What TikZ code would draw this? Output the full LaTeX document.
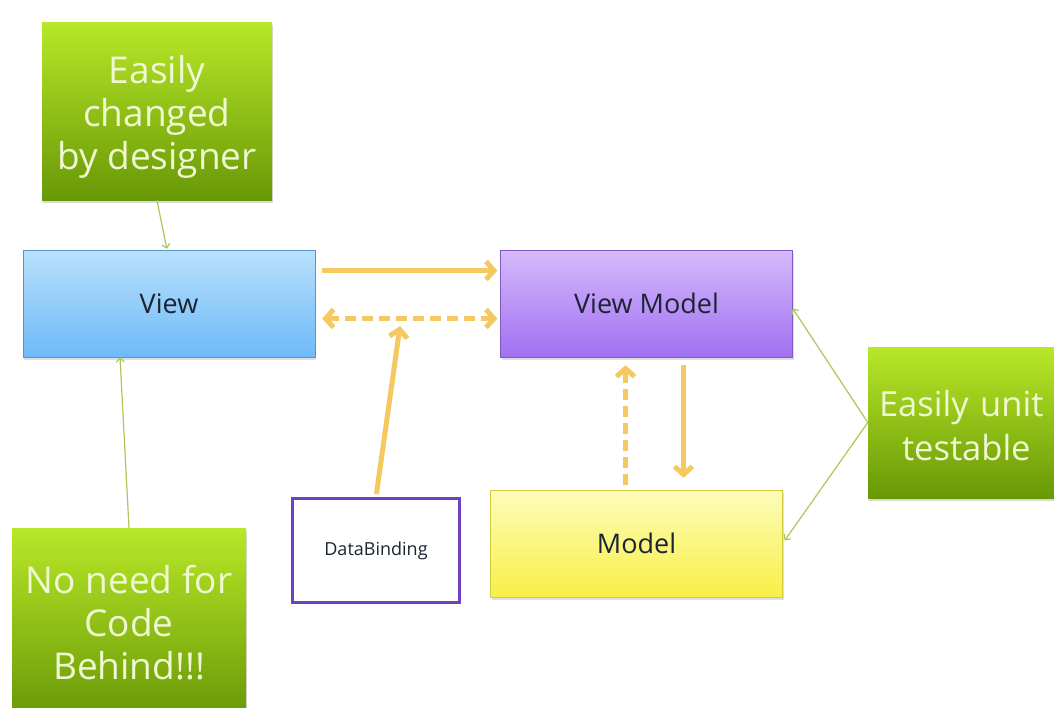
\documentclass[tikz,border=0pt]{standalone}
\usepackage{fontspec}
\setmainfont{Open Sans}
\usepackage{tikz}
\usetikzlibrary{arrows.meta, positioning, calc, shadows}
\definecolor{limetop}{RGB}{184,232,40}
\definecolor{limebot}{RGB}{104,152,6}
\definecolor{notetext}{RGB}{240,248,210}
\definecolor{skytop}{RGB}{184,224,252}
\definecolor{skybot}{RGB}{110,186,248}
\definecolor{liltop}{RGB}{214,186,252}
\definecolor{lilbot}{RGB}{160,112,242}
\definecolor{lemtop}{RGB}{252,252,186}
\definecolor{lembot}{RGB}{248,240,70}
\definecolor{flow}{RGB}{246,200,96}
\definecolor{hint}{RGB}{170,200,90}
\definecolor{bindline}{RGB}{112,64,192}
\definecolor{boxtext}{RGB}{28,36,52}

\begin{document}
\begin{tikzpicture}[x=1pt, y=-1pt,
  note/.style={top color=limetop, bottom color=limebot, text=notetext, align=center,
    font=\fontsize{37}{43}\selectfont, drop shadow={shadow xshift=1pt, shadow yshift=-3pt, opacity=0.3}},
  box/.style={minimum width=292pt, minimum height=107pt, text=boxtext, font=\fontsize{27}{31}\selectfont,
    drop shadow={shadow xshift=1pt, shadow yshift=-3pt, opacity=0.25}},
  flowarrow/.style={draw=flow, line width=5pt, -{Straight Barb[length=8pt, width=18pt]}},
  hintarrow/.style={draw=hint, line width=1.2pt, -{Straight Barb[length=4pt, width=8pt]}}]
  \clip (0,0) rectangle (1054,707);
  \fill[white] (0,0) rectangle (1054,707);

  % boxes
  \node[box, top color=skytop, bottom color=skybot, draw=skybot!80!black] (view) at (169,303.5) {View};
  \node[box, top color=liltop, bottom color=lilbot, draw=lilbot!80!black] (vm) at (646.5,303.5) {View Model};
  \node[box, top color=lemtop, bottom color=lembot, draw=lembot!85!black] (model) at (636.5,543.5) {Model};
  \node[draw=bindline, line width=3pt, fill=white, minimum width=167pt, minimum height=104pt,
    text=boxtext, font=\fontsize{18}{21}\selectfont] (bind) at (376,550.5) {DataBinding};

  % notes
  \node[note, minimum width=230pt, minimum height=178pt] (designer) at (157,111) {\rule{0pt}{40pt}Easily\\changed\\by designer};
  \node[note, minimum width=234pt, minimum height=190pt] (codebehind) at (129,623) {No need for\\Code\\Behind!!!};
  \node[note, minimum width=230pt, minimum height=151pt, text width=196pt, align=left,
    font=\fontsize{34.5}{44}\selectfont] (unit) at (983,422.5) {\hspace*{-6pt}\rule{0pt}{32pt}Easily unit\\\hspace*{17pt}testable};

  % flows
  \draw[flowarrow, shorten <=7pt, shorten >=3pt] ([yshift=33pt]view.east) -- ([yshift=33pt]vm.west);
  \draw[flowarrow, {Straight Barb[length=8pt, width=18pt]}-{Straight Barb[length=8pt, width=18pt]},
    dash pattern=on 11pt off 6pt, shorten <=7pt, shorten >=3pt]
    ([yshift=-15pt]view.east) -- ([yshift=-15pt]vm.west);
  \coordinate (bindpt) at (400,326);
  \draw[flowarrow, shorten <=3pt] (bind.north) -- (bindpt);
  \coordinate (uptop) at ([xshift=-21pt]vm.south);
  \coordinate (downtop) at ([xshift=37pt]vm.south);
  \draw[flowarrow, dash pattern=on 11pt off 6pt, shorten <=5pt, shorten >=8pt] (uptop |- model.north) -- (uptop);
  \draw[flowarrow, shorten <=8pt, shorten >=12pt] (downtop) -- (downtop |- model.north);

  % hints
  \draw[hintarrow, shorten >=1pt] (designer.south) -- ([xshift=-2pt]view.north);
  \draw[hintarrow] (codebehind.north) -- ([xshift=-49pt]view.south);
  \draw[hintarrow] (unit.west) -- ([yshift=-5pt]vm.east);
  \draw[hintarrow] (unit.west) -- ([yshift=3pt, xshift=2pt]model.east);
\end{tikzpicture}
\end{document}
